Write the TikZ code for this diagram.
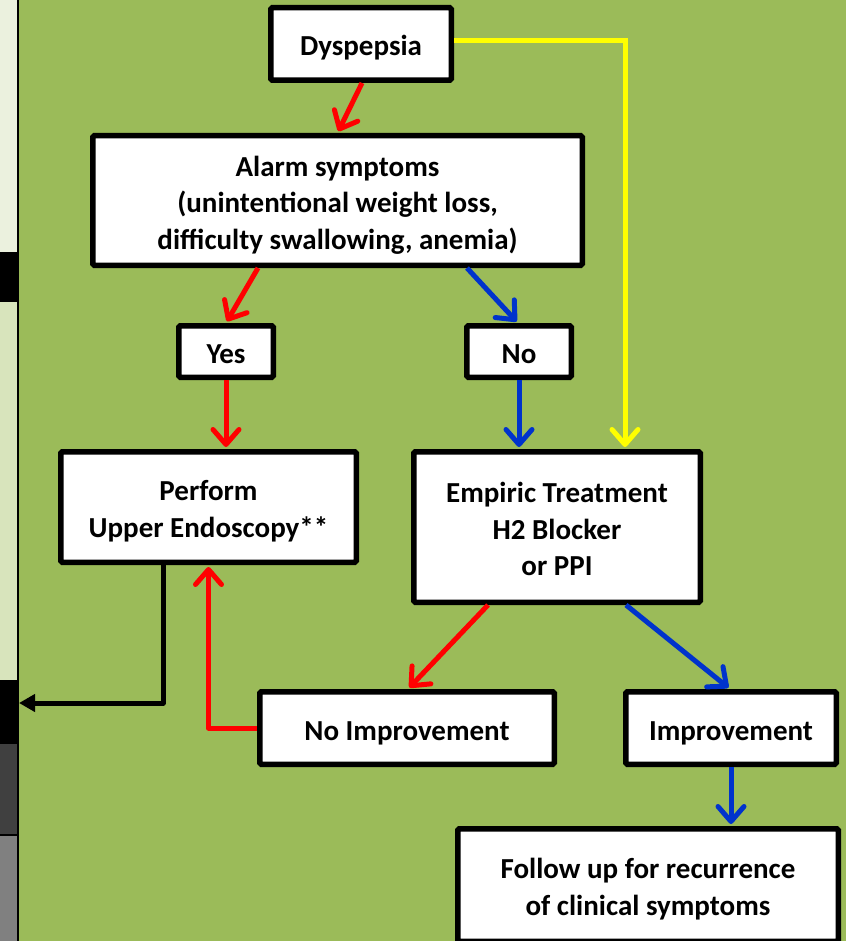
\documentclass[tikz,border=0pt]{standalone}
\usepackage{fontspec}
\setmainfont{Carlito}
\usetikzlibrary{arrows.meta,calc}
\definecolor{bggreen}{HTML}{9BBB59}
\definecolor{stripA}{HTML}{EBF1DE}
\definecolor{stripB}{HTML}{D8E4BC}
\definecolor{stripC}{HTML}{404040}
\definecolor{stripD}{HTML}{808080}
\definecolor{arrred}{HTML}{FF0000}
\definecolor{arrblue}{HTML}{0033CC}
\definecolor{arryellow}{HTML}{FFFF00}
\newcommand{\mytop}{\rule{0pt}{32pt}}
\newcommand{\mybot}{\rule[-8pt]{0pt}{8pt}}
\tikzset{
  box/.style={draw=black, fill=white, line width=5.5pt, rounded corners=1.5pt,
    align=center, inner sep=0pt,
    font=\fontsize{29}{36.5}\selectfont\bfseries},
  barb/.style={line width=5pt, -{Straight Barb[length=15pt,width=26pt,line cap=round,line join=round]}},
  redarr/.style={barb, draw=arrred},
  bluearr/.style={barb, draw=arrblue},
  yelarr/.style={barb, draw=arryellow},
  blackarr/.style={line width=5pt, draw=black, -{Triangle[length=16pt,width=17pt]}}
}
\begin{document}
\begin{tikzpicture}[x=1pt,y=-1pt]
\useasboundingbox (0,0) rectangle (846,941);
\begin{scope}
\clip (0,0) rectangle (846,941);
% background
\fill[bggreen] (0,0) rectangle (846,941);
% left strip (edge of neighbouring panel)
\fill[stripA] (0,0) rectangle (17,252);
\fill[black] (0,252) rectangle (17,302);
\fill[stripB] (0,302) rectangle (17,680);
\fill[black] (0,680) rectangle (17,744);
\fill[stripC] (0,744) rectangle (17,834);
\fill[black] (0,834) rectangle (17,835.5);
\fill[stripD] (0,835.5) rectangle (17,941);
\fill[black] (17,0) rectangle (19,941);

% nodes
\node[box, minimum width=180.5, minimum height=72.5] (dys) at (361,44) {\mytop Dyspepsia\mybot};
\node[box, minimum width=489.5, minimum height=129.5] (alarm) at (337.5,200.5)
  {\mytop Alarm symptoms\\(unintentional weight loss,\\difficulty swallowing, anemia)\mybot};
\node[box, minimum width=94.5, minimum height=51.5] (yes) at (226,351.5) {\mytop Yes\mybot};
\node[box, minimum width=104.5, minimum height=51.5] (no) at (519,351.5) {\mytop No\mybot};
\node[box, minimum width=295.5, minimum height=110.5] (perf) at (208.5,507)
  {\mytop Perform\\Upper Endoscopy**\mybot};
\node[box, minimum width=286.5, minimum height=150.5] (emp) at (557,527)
  {\mytop Empiric Treatment\\H2 Blocker\\or PPI\mybot};
\node[box, minimum width=294.5, minimum height=72.5] (noimp) at (407,728) {\mytop No Improvement\mybot};
\node[box, minimum width=210.5, minimum height=72.5] (imp) at (731,728) {\mytop Improvement\mybot};
\node[box, minimum width=380.5, minimum height=112.5] (fol) at (648,885)
  {\mytop Follow up for recurrence\\of clinical symptoms\mybot};
\coordinate (lft) at (19,703);

% connectors
\draw[redarr, shorten >=2pt] ([xshift=1pt]dys.south) -- (alarm.north);
\draw[redarr, shorten >=2pt] ([xshift=-79.5pt]alarm.south) -- (yes.north);
\draw[bluearr, shorten >=2pt] ([xshift=129.5pt]alarm.south) -- ([xshift=-1pt]no.north);
\draw[redarr, shorten >=2pt] (yes.south) -- (yes.south |- perf.north);
\draw[bluearr, shorten >=2pt] (no.south) -- (no.south |- emp.north);
\draw[yelarr, shorten >=2pt] ([yshift=3pt]dys.east) -| ([xshift=68pt]emp.north);
\draw[redarr, shorten >=2pt] ([xshift=-69pt]emp.south) -- ([xshift=1pt]noimp.north);
\draw[bluearr, shorten >=2pt] ([xshift=69pt]emp.south) -- ([xshift=-1pt]imp.north);
\draw[bluearr, shorten >=2pt] (imp.south) -- (imp.south |- fol.north);
\draw[redarr, line join=round, shorten >=2pt] (noimp.west) -| (perf.south);
\draw[blackarr, line join=round] ([xshift=-45.5pt]perf.south) |- (lft);
\end{scope}
\end{tikzpicture}
\end{document}
